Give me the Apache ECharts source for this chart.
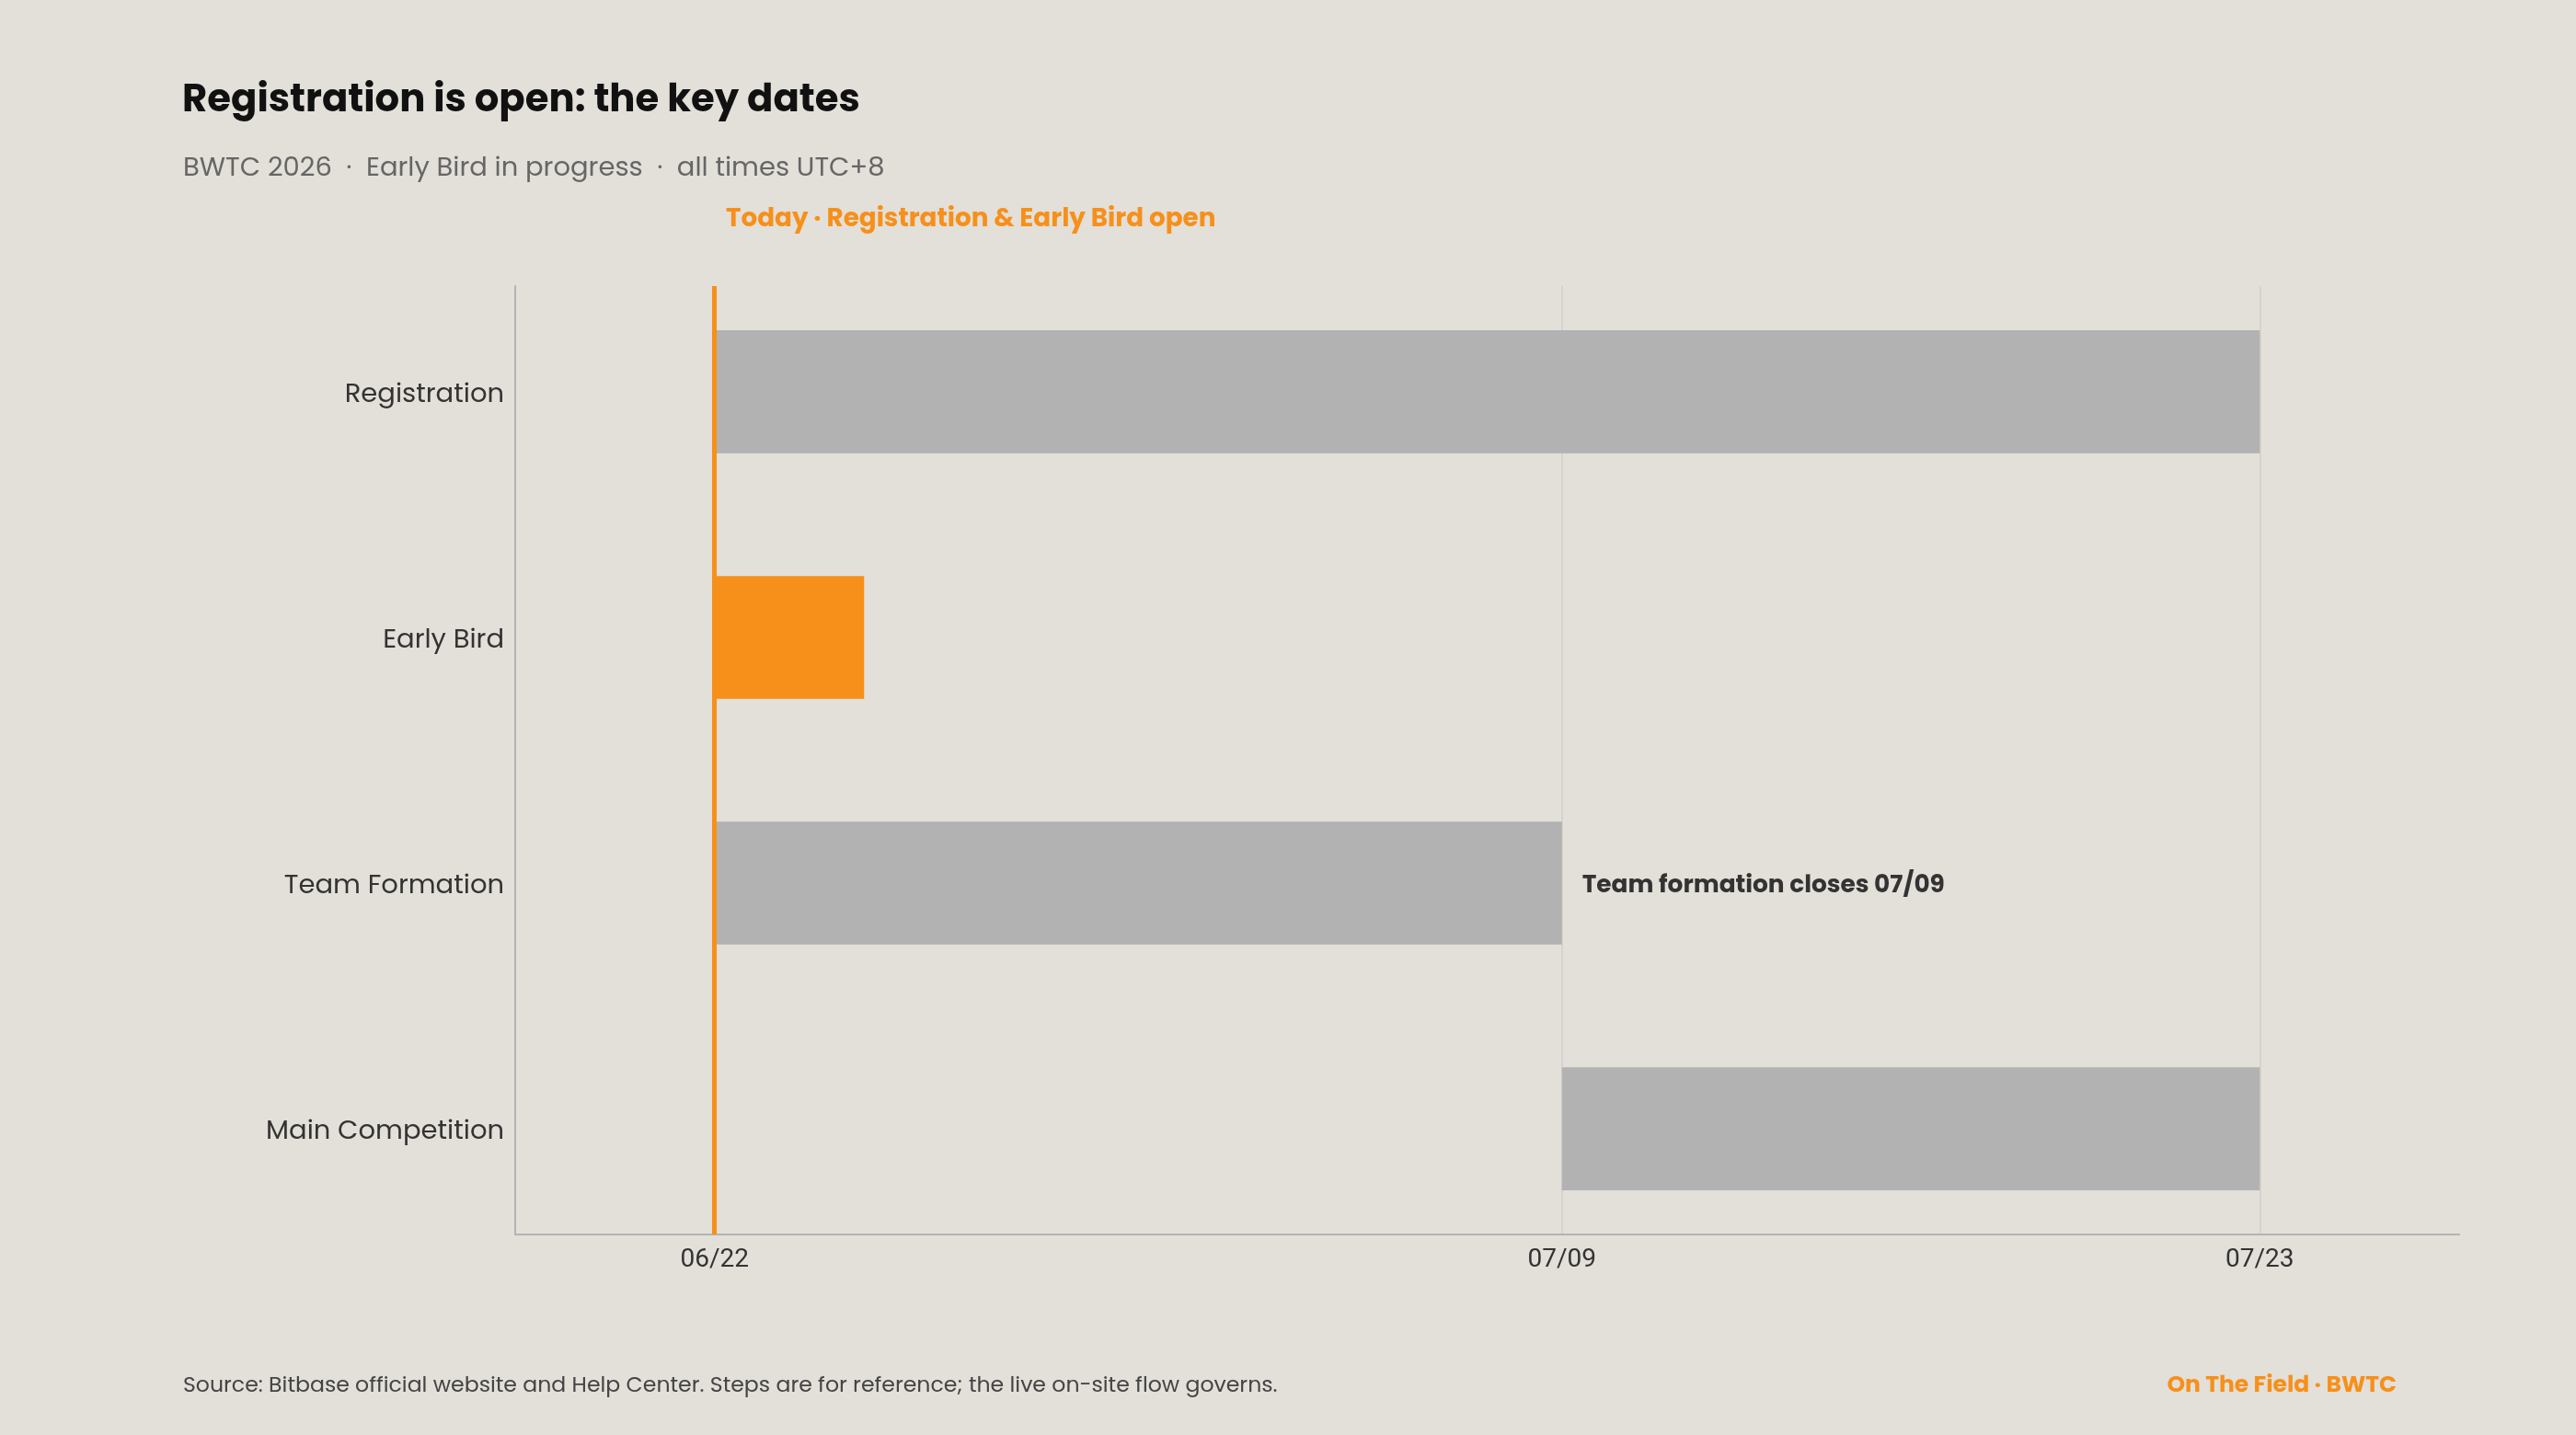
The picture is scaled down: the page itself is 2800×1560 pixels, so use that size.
<!DOCTYPE html>
<html>
<head>
<meta charset="utf-8">
<title>BWTC 2026 key dates</title>
<script src="https://cdn.jsdelivr.net/npm/echarts@6/dist/echarts.min.js"></script>
<style>
  html, body { margin: 0; padding: 0; background: #e3dfd9; }
  #main { width: 2800px; height: 1560px; }
</style>
</head>
<body>
<div id="main"></div>
<script>
// phases, top to bottom
var phases = ['Registration', 'Early Bird', 'Team Formation', 'Main Competition'];
var starts = ['2026-06-22', '2026-06-22', '2026-06-22', '2026-07-09'];
var ends   = ['2026-07-23', '2026-06-25', '2026-07-09', '2026-07-23'];
var highlight = [false, true, false, false];
var notes = ['', '', 'Team formation closes 07/09', ''];
var tickDates = ['2026-06-22', '2026-07-09', '2026-07-23'];
var today = '2026-06-22';
var axisStart = '2026-06-18';
var axisEnd = '2026-07-27';

var GREY = '#b2b2b2';
var ORANGE = '#f6901a';
var FONT = 'Poppins, Inter, sans-serif';

function ts(s) { return new Date(s + 'T00:00:00Z').getTime(); }
function mmdd(v) {
  var d = new Date(v);
  var m = d.getUTCMonth() + 1, day = d.getUTCDate();
  return (m < 10 ? '0' : '') + m + '/' + (day < 10 ? '0' : '') + day;
}

var rows = [];
for (var i = 0; i < phases.length; i++) {
  rows.push([i, ts(starts[i]), ts(ends[i]), highlight[i] ? 1 : 0]);
}

function renderItem(params, api) {
  var row = api.value(0);
  var a = api.coord([api.value(1), row]);
  var b = api.coord([api.value(2), row]);
  var h = api.size([0, 1])[1] * 0.5;
  var children = [{
    type: 'rect',
    shape: { x: a[0], y: a[1] - h / 2, width: b[0] - a[0], height: h },
    style: { fill: api.value(3) ? ORANGE : GREY }
  }];
  var note = notes[row];
  if (note) {
    children.push({
      type: 'text',
      style: {
        text: note, x: b[0] + 22, y: b[1] + 3,
        verticalAlign: 'middle', align: 'left',
        font: 'bold 26.4px ' + FONT, fill: '#333333'
      }
    });
  }
  return { type: 'group', children: children };
}

var myChart = echarts.init(document.getElementById('main'));

var option = {
  backgroundColor: '#e3dfd9',
  animation: false,
  title: [
    { text: 'Registration is open: the key dates', left: 193, top: 85,
      textStyle: { fontFamily: FONT, fontSize: 41.8, fontWeight: 'bold', color: '#111111' } },
    { text: 'BWTC 2026  ·  Early Bird in progress  ·  all times UTC+8', left: 194, top: 164,
      textStyle: { fontFamily: FONT, fontSize: 29, fontWeight: 'normal', color: '#666666' } },
    { text: 'Today · Registration & Early Bird open', left: 784, top: 220,
      textStyle: { fontFamily: FONT, fontSize: 27.8, fontWeight: 'bold', color: ORANGE } },
    { text: 'Source: Bitbase official website and Help Center. Steps are for reference; the live on-site flow governs.',
      left: 194, top: 1490,
      textStyle: { fontFamily: FONT, fontSize: 23.6, fontWeight: 'normal', color: '#444444' } },
    { text: 'On The Field · BWTC', right: 190, top: 1489,
      textStyle: { fontFamily: FONT, fontSize: 25, fontWeight: 'bold', color: ORANGE } }
  ],
  grid: { left: 560, right: 127, top: 311, bottom: 218, containLabel: false },
  xAxis: {
    type: 'value',
    min: ts(axisStart),
    max: ts(axisEnd),
    axisLine: { show: true, onZero: false, lineStyle: { color: '#b3b3b3', width: 2 } },
    axisTick: { show: false, customValues: tickDates.map(ts) },
    axisLabel: {
      customValues: tickDates.map(ts),
      formatter: function (v) { return mmdd(v); },
      fontFamily: 'Roboto', fontSize: 28, color: '#333333', margin: 14
    },
    splitLine: { show: true, lineStyle: { color: '#d2cec8', width: 1.5 } }
  },
  yAxis: {
    type: 'value',
    inverse: true,
    min: -0.43,
    max: 3.43,
    axisLine: { show: true, onZero: false, lineStyle: { color: '#b3b3b3', width: 2 } },
    axisTick: { show: false, customValues: [0, 1, 2, 3] },
    splitLine: { show: false },
    axisLabel: {
      customValues: [0, 1, 2, 3],
      formatter: function (v) { return '{a|' + phases[v] + '}'; },
      margin: 12,
      rich: {
        a: { fontFamily: FONT, fontSize: 29, color: '#333333', padding: [8, 0, 0, 0] }
      }
    }
  },
  series: [{
    type: 'custom',
    renderItem: renderItem,
    encode: { x: [1, 2], y: 0 },
    data: rows,
    markLine: {
      silent: true,
      symbol: ['none', 'none'],
      label: { show: false },
      lineStyle: { color: ORANGE, width: 5, type: 'solid' },
      data: [{ xAxis: ts(today) }],
      z: 5
    }
  }]
};

myChart.setOption(option);
</script>
</body>
</html>
